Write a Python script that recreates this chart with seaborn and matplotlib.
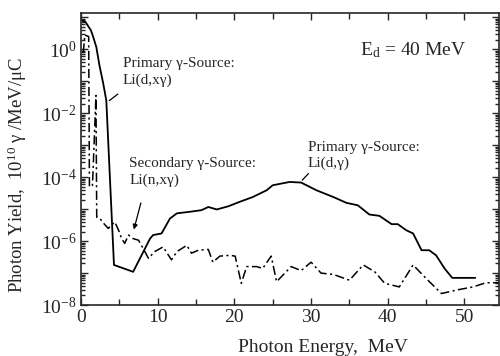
import matplotlib
matplotlib.use("Agg")
import matplotlib.pyplot as plt
import matplotlib.ticker as mticker
import numpy as np
import pandas as pd
import seaborn as sns

# ---- data ----
primary_energy = [0.05, 0.6, 1.3, 1.6, 2.0, 2.4, 2.9, 3.3, 4.3, 6.8, 9.0, 9.4, 10.5,
                  11.6, 12.5, 14.2, 15.7, 16.6, 17.7, 19.2, 20.7, 22.4, 24.2, 25.0,
                  27.2, 28.7, 30.7, 32.9, 34.6, 36.1, 37.6, 38.9, 40.5, 41.3, 42.4,
                  43.3, 44.4, 45.4, 46.3, 47.4, 48.4, 51.4]
primary_yield = [8.1, 7.1, 3.9, 2.4, 1.17, 0.32, 0.085, 0.025, 1.8e-7, 1.1e-7, 1.2e-6,
                 1.55e-6, 1.74e-6, 5.1e-6, 7.4e-6, 8.3e-6, 9.3e-6, 1.17e-5, 9.8e-6,
                 1.23e-5, 1.7e-5, 2.4e-5, 3.9e-5, 5.6e-5, 7.1e-5, 6.8e-5, 3.9e-5,
                 2.4e-5, 1.58e-5, 1.32e-5, 6.8e-6, 6.2e-6, 3.4e-6, 3.4e-6, 2.2e-6,
                 1.74e-6, 5.2e-7, 5.2e-7, 3.6e-7, 1.4e-7, 7.1e-8, 7.1e-8]

secondary_energy = [0.3, 0.5, 1.0, 1.1, 1.5, 1.95, 2.05, 2.5, 3.0, 3.55, 4.4, 4.9, 5.3,
                    5.7, 6.2, 6.8, 7.5, 8.1, 8.8, 9.6, 10.7, 11.8, 12.5, 13.8, 14.4,
                    15.3, 16.6, 17.2, 18.1, 19.4, 20.1, 20.9, 21.6, 22.9, 23.7, 24.0,
                    24.8, 25.5, 27.4, 28.7, 30.0, 31.3, 32.9, 35.0, 36.8, 38.3, 39.6,
                    41.5, 43.3, 45.0, 47.0, 49.1, 51.1, 52.8, 54.5]
secondary_yield = [0.79, 2.8, 2.5, 5.0e-5, 5.6e-5, 3.6e-2, 5.6e-6, 5.0e-6, 3.5e-6,
                   2.5e-6, 4.0e-6, 2.2e-6, 1.2e-6, 8.5e-7, 1.55e-6, 1.2e-6, 1.07e-6,
                   5.9e-7, 2.9e-7, 4.7e-7, 6.6e-7, 2.6e-7, 4.7e-7, 7.4e-7, 4.2e-7,
                   5.2e-7, 5.5e-7, 2.2e-7, 3.4e-7, 3.6e-7, 3.4e-7, 4.8e-8, 1.6e-7,
                   1.6e-7, 1.4e-7, 1.8e-7, 3.4e-7, 5.4e-8, 1.6e-7, 1.2e-7, 2.2e-7,
                   1.0e-7, 9.1e-8, 6.0e-8, 1.8e-7, 1.1e-7, 4.8e-8, 3.7e-8, 1.8e-7,
                   6.8e-8, 2.3e-8, 3.0e-8, 3.7e-8, 5.0e-8, 5.0e-8]

x_ticks = [0, 10, 20, 30, 40, 50]

# ---- style ----
sns.set_style("ticks")
plt.rcParams["font.family"] = ["Liberation Serif", "DejaVu Serif"]
plt.rcParams["mathtext.fontset"] = "custom"
plt.rcParams["mathtext.rm"] = "Liberation Serif"
plt.rcParams["mathtext.it"] = "Liberation Serif:italic"
plt.rcParams["axes.linewidth"] = 1.2

fig = plt.figure(figsize=(5.0, 3.56), dpi=100)
ax = fig.add_axes([0.162, 0.143, 0.836, 0.820])

df_p = pd.DataFrame({"E": primary_energy, "Y": primary_yield})
df_s = pd.DataFrame({"E": secondary_energy, "Y": secondary_yield})

sns.lineplot(data=df_p, x="E", y="Y", ax=ax, color="black", lw=1.3,
             estimator=None, sort=False)
sns.lineplot(data=df_s, x="E", y="Y", ax=ax, color="black", lw=1.1,
             estimator=None, sort=False, linestyle=(0, (6, 2.2, 1.4, 2.2)))

ax.set_yscale("log")
ax.set_xlim(0, 54.5)
ax.set_ylim(1e-8, 13.5)

ax.set_xticks(x_ticks)
ax.xaxis.set_minor_locator(mticker.MultipleLocator(5))
ax.yaxis.set_major_locator(mticker.LogLocator(base=10, numticks=20))
ax.yaxis.set_minor_locator(mticker.LogLocator(base=10, subs=np.arange(2, 10), numticks=20))


def yfmt(v, pos):
    e = int(round(np.log10(v)))
    return r"$10^{%d}$" % e if e % 2 == 0 else ""


ax.yaxis.set_major_formatter(mticker.FuncFormatter(yfmt))
ax.yaxis.set_minor_formatter(mticker.NullFormatter())

ax.tick_params(which="both", direction="in", top=True, right=True, width=1.0)
ax.tick_params(which="major", length=5, labelsize=14, pad=3)
ax.tick_params(which="minor", length=3)
ax.tick_params(axis="x", which="minor", length=4)

ax.set_xlabel("Photon Energy,  MeV", fontsize=14)
ax.set_ylabel("Photon Yield,  10$^{10}$ γ /MeV/μC", fontsize=13.5)
ax.xaxis.set_label_coords(0.579, -0.115)
ax.yaxis.set_label_coords(-0.125, 0.445)

ax.text(0.667, 0.873, r"E$_\mathrm{d}$ = 40 MeV", transform=ax.transAxes,
        fontsize=14, va="center", ha="left")

ax.text(0.100, 0.80, "Primary γ-Source:\nLi(d,xγ)", transform=ax.transAxes,
        fontsize=11, va="center", ha="left", linespacing=1.35)
ax.annotate("", xy=(3.4, 0.022), xytext=(5.1, 0.045),
            arrowprops=dict(arrowstyle="-", color="black", lw=0.9))

ax.text(0.115, 0.455, "Secondary γ-Source:\nLi(n,xγ)", transform=ax.transAxes,
        fontsize=11, va="center", ha="left", linespacing=1.3)
ax.annotate("", xy=(6.8, 1.9e-6), xytext=(7.9, 1.9e-5),
            arrowprops=dict(arrowstyle="-|>", color="black", lw=0.9,
                            mutation_scale=7))

ax.text(0.543, 0.512, "Primary γ-Source:\nLi(d,γ)", transform=ax.transAxes,
        fontsize=11, va="center", ha="left", linespacing=1.3)
ax.annotate("", xy=(28.6, 7.0e-5), xytext=(29.9, 1.5e-4),
            arrowprops=dict(arrowstyle="-", color="black", lw=0.9))

fig.savefig("out.png", dpi=100)
